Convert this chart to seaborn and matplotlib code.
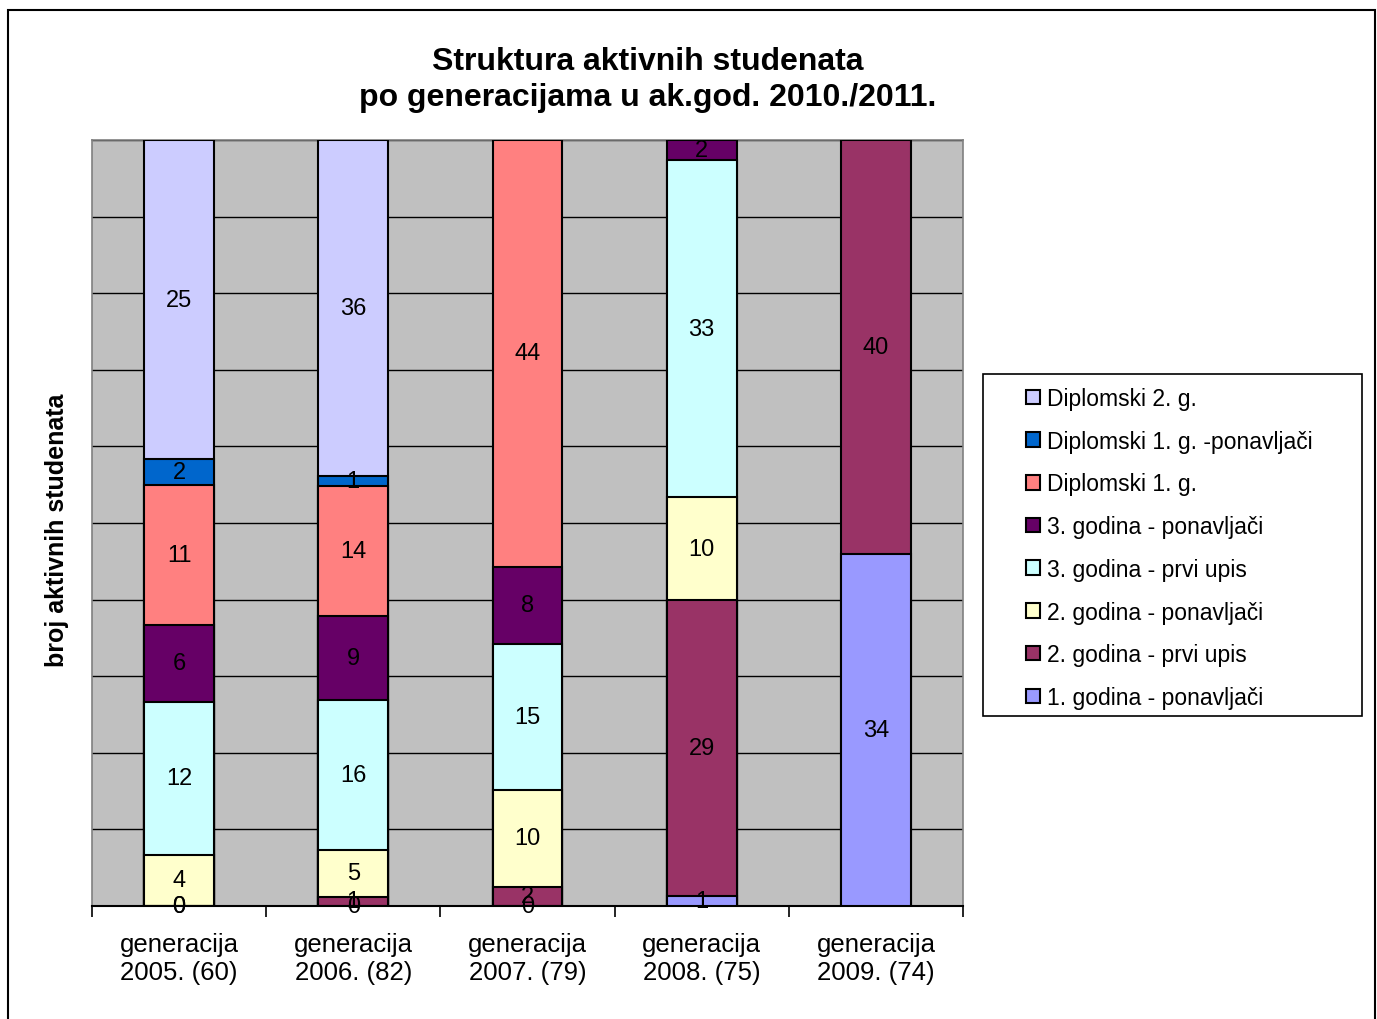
import numpy as np
import pandas as pd
import seaborn as sns
import matplotlib.pyplot as plt
from matplotlib.patches import Rectangle

#--Data (broj studenata po generaciji)
categories = ['generacija\n2005. (60)', 'generacija\n2006. (82)', 'generacija\n2007. (79)',
              'generacija\n2008. (75)', 'generacija\n2009. (74)']

# stacking order: bottom -> top
series_names = ['1. godina - ponavljači', '2. godina - prvi upis', '2. godina - ponavljači',
                '3. godina - prvi upis', '3. godina - ponavljači', 'Diplomski 1. g.',
                'Diplomski 1. g. -ponavljači', 'Diplomski 2. g.']
first_rep    = [0, 0, 0, 1, 34]
second_first = [0, 1, 2, 29, 40]
second_rep   = [4, 5, 10, 10, np.nan]
third_first  = [12, 16, 15, 33, np.nan]
third_rep    = [6, 9, 8, 2, np.nan]
dipl1        = [11, 14, 44, np.nan, np.nan]
dipl1_rep    = [2, 1, np.nan, np.nan, np.nan]
dipl2        = [25, 36, np.nan, np.nan, np.nan]
series_values = [first_rep, second_first, second_rep, third_first, third_rep, dipl1, dipl1_rep, dipl2]
series_colors = ['#9999FF', '#993366', '#FFFFCC', '#CCFFFF', '#660066', '#FF8080', '#0066CC', '#CCCCFF']

#%%
#--Percent stack
vals = np.array(series_values, dtype=float)
totals = np.nansum(vals, axis=0)
frac = vals / totals
cum = np.nancumsum(frac, axis=0)

#%%
#--Plot
sns.set_style('white')
plt.rcParams['font.family'] = ['Liberation Sans', 'DejaVu Sans']
plt.rcParams['text.color'] = 'black'
plt.rcParams['xtick.color'] = 'black'
plt.rcParams['xtick.labelcolor'] = 'black'

fig = plt.figure(figsize=(13.77, 10.2), dpi=100)
ax = fig.add_axes([92 / 1377, 113 / 1020, 871 / 1377, 766 / 1020])
ax.set_facecolor('#C0C0C0')

# draw from the top series down so lower segments sit over upper ones
for k in range(len(series_names) - 1, -1, -1):
    df = pd.DataFrame({'cat': categories, 'top': cum[k], 'v': vals[k]}).dropna()
    sns.barplot(data=df, x='cat', y='top', order=categories, color=series_colors[k],
                saturation=1, width=0.4, edgecolor='black', linewidth=1.5,
                errorbar=None, label=series_names[k], ax=ax, zorder=3)
handles, labels = ax.get_legend_handles_labels()
if ax.get_legend() is not None:
    ax.get_legend().remove()

# data labels
for k in range(len(series_names)):
    for i in range(len(categories)):
        if np.isnan(vals[k][i]):
            continue
        y = cum[k][i] - frac[k][i] / 2
        ax.text(i, y, '%d' % vals[k][i], ha='center', va='center', fontsize=17,
                color='black', zorder=5)

ax.set_ylim(0, 1)
ax.set_xlim(-0.5, 4.5)
ax.set_yticks(np.arange(0, 1.01, 0.1))
ax.set_yticklabels([])
ax.tick_params(axis='y', length=0)
ax.yaxis.grid(True, color='black', linewidth=1)
ax.set_axisbelow(True)
ax.set_xlabel('')
ax.set_ylabel('')
ax.tick_params(axis='x', which='major', length=0, pad=19, labelsize=18.5, labelcolor='black')
ax.set_xticks(np.arange(-0.5, 4.6, 1), minor=True)
ax.tick_params(axis='x', which='minor', bottom=True, length=8, width=1.2, direction='out', color='black')
for s in ['left', 'top', 'right']:
    ax.spines[s].set_color('#808080')
    ax.spines[s].set_linewidth(1.2)
ax.spines['bottom'].set_color('black')
ax.spines['bottom'].set_linewidth(1.5)

#--Legend (frame drawn separately)
fig.legend(handles, labels, loc='upper left', bbox_to_anchor=(1026 / 1377, 1 - 388 / 1020),
           borderaxespad=0, borderpad=0, fontsize=16.5, frameon=False,
           handlelength=0.6, handleheight=0.6, handletextpad=0.3, labelspacing=0.86)
fig.patches.append(Rectangle((983 / 1377, 1 - 717 / 1020), 379 / 1377, 342 / 1020,
                             transform=fig.transFigure, fill=False, edgecolor='black', linewidth=1.2))

#--Title and y label
fig.text(648 / 1377, 1 - 80 / 1020, 'Struktura aktivnih studenata\npo generacijama u ak.god. 2010./2011.',
         ha='center', va='center', fontsize=23, fontweight='bold', linespacing=1.27)
fig.text(57 / 1377, 1 - 530 / 1020, 'broj aktivnih studenata', rotation=90, ha='center', va='center',
         fontsize=18, fontweight='bold')

# chart area border
fig.patches.append(Rectangle((8 / 1377, -0.01), 1367 / 1377, 1 - 11 / 1020 + 0.01,
                             transform=fig.transFigure, fill=False, edgecolor='black', linewidth=1.5))

plt.savefig('out.png', dpi=100)
plt.close()
